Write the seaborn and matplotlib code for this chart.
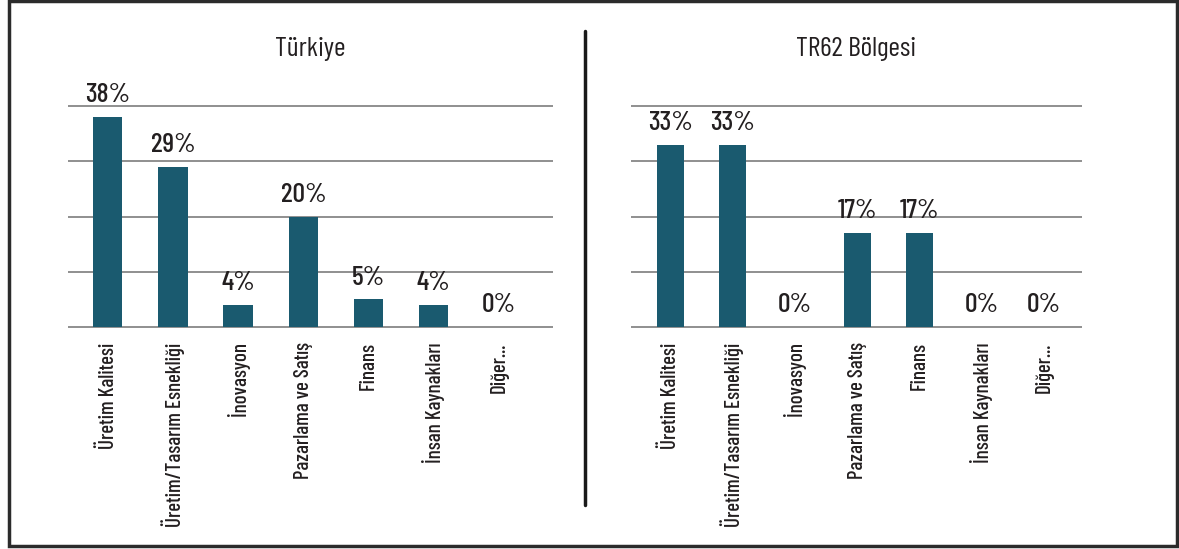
import numpy as np
import pandas as pd
import matplotlib
matplotlib.use("Agg")
import matplotlib.pyplot as plt
from matplotlib.lines import Line2D
from matplotlib.patches import Rectangle
import seaborn as sns

# Data
categories = ["Üretim Kalitesi", "Üretim/Tasarım Esnekliği", "İnovasyon",
              "Pazarlama ve Satış", "Finans", "İnsan Kaynakları", "Diğer..."]
turkiye_pct = [38, 29, 4, 20, 5, 4, 0]
tr62_pct = [33, 33, 0, 17, 17, 0, 0]
panel_titles = ["Türkiye", "TR62 Bölgesi"]

sns.set_theme(style="white")
plt.rcParams["font.family"] = ["Barlow Condensed", "DejaVu Sans"]
plt.rcParams["font.weight"] = "medium"

BAR = "#1a5a6f"
TXT = "#231f20"
GRID = "#8f8f8f"

W, H = 1179, 549
fig = plt.figure(figsize=(W / 100, H / 100), dpi=100)

px_per_pct = 221 / 40


def axes_rect(x0, x1):
    top = 106 - 1.0 * px_per_pct
    bot = 327 + 0.5 * px_per_pct
    return [x0 / W, 1 - bot / H, (x1 - x0) / W, (bot - top) / H]


panels = [
    (axes_rect(68, 553), turkiye_pct, (-0.61, 6.83), 0.45),
    (axes_rect(631, 1082), tr62_pct, (-0.63, 6.61), 0.43),
]

for (rect, vals, xlim, bw), title in zip(panels, panel_titles):
    ax = fig.add_axes(rect)
    df = pd.DataFrame({"cat": categories, "pct": vals})
    sns.barplot(data=df, x="cat", y="pct", order=categories, color=BAR,
                saturation=1, width=bw, linewidth=0, ax=ax, zorder=3)
    ax.set_xlim(*xlim)
    ax.set_ylim(-0.5, 41)
    ax.set_yticks([0, 10, 20, 30, 40])
    ax.yaxis.grid(True, color=GRID, linewidth=1.4)
    ax.set_axisbelow(True)
    ax.set_yticklabels([])
    ax.tick_params(axis="y", length=0)
    ax.tick_params(axis="x", length=0, pad=9, labelsize=15,
                   labelcolor=TXT, rotation=90)
    ax.set_xlabel("")
    ax.set_ylabel("")
    for s in ax.spines.values():
        s.set_visible(False)
    ax.bar_label(ax.containers[0], labels=[f"{v}%" for v in vals],
                 padding=7, fontsize=20, color=TXT)
    ax.set_title(title, fontsize=20, color=TXT, pad=32)

# divider between the panels
fig.add_artist(Line2D([585 / W, 585 / W], [1 - 31 / H, 1 - 505 / H],
                      color="#1a1a1a", linewidth=2.5))
# outer frame
fig.add_artist(Rectangle((8.5 / W, 1 - 546 / H), (1177 - 8.5) / W,
                         (546 - 0.8) / H, fill=False,
                         edgecolor="#2b2b2b", linewidth=2.5))

fig.savefig("out.png", dpi=100)
